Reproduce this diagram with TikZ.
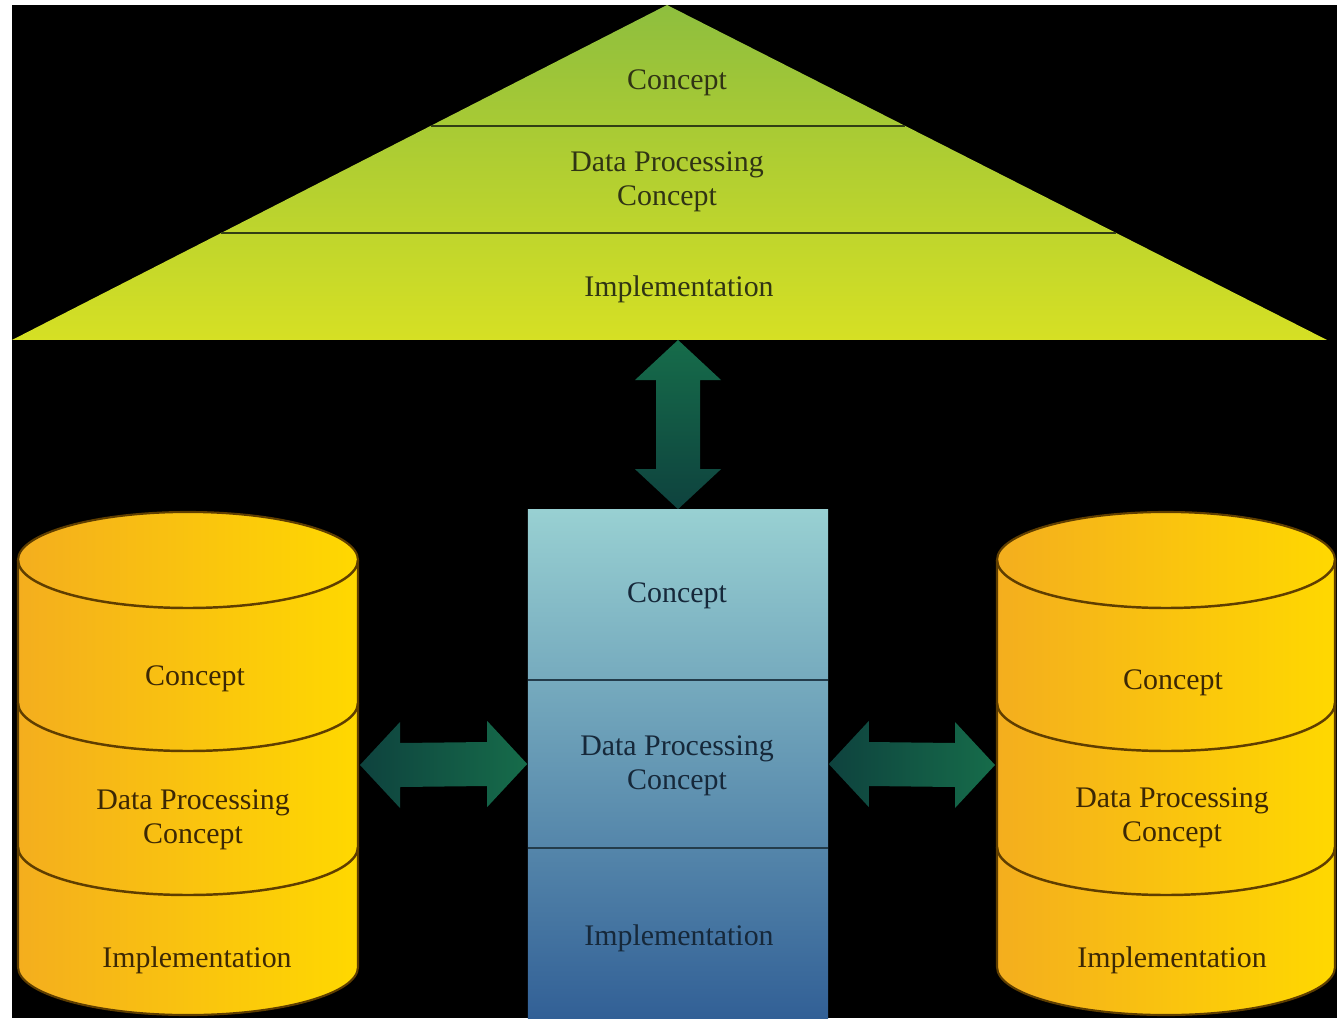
\documentclass[tikz,border=0pt]{standalone}
\usepackage{fontspec}
\setmainfont{Liberation Serif}
\usepackage{tikz}
\usetikzlibrary{calc,positioning}
\definecolor{trigtop}{RGB}{142,190,62}
\definecolor{trigbot}{RGB}{214,224,36}
\definecolor{trigline}{RGB}{50,62,20}
\definecolor{trigtext}{RGB}{48,52,20}
\definecolor{cylleft}{RGB}{244,174,30}
\definecolor{cylright}{RGB}{255,216,0}
\definecolor{cylline}{RGB}{95,62,0}
\definecolor{cyltext}{RGB}{60,40,5}
\definecolor{boxtop}{RGB}{152,208,210}
\definecolor{boxbot}{RGB}{50,96,150}
\definecolor{boxline}{RGB}{35,60,75}
\definecolor{boxtext}{RGB}{22,40,58}
\definecolor{arrdark}{RGB}{14,66,62}
\definecolor{arrgreen}{RGB}{22,108,74}

\begin{document}
\begin{tikzpicture}[x=0.01cm,y=-0.01cm,
	lbl/.style={font=\fontsize{8.5}{9.7}\selectfont,align=center,inner sep=0pt},
	cylbody/.style={left color=cylleft,right color=cylright,draw=cylline,line width=0.6pt},
	band/.style={line width=0.7pt}]
		% page
		\fill[white] (0,0) rectangle (1337,1018);
		\fill[black] (12,5) rectangle (1337,1018);
		% triangle
		\coordinate (apex) at (667,5);
		\coordinate (bl) at (12,340);
		\coordinate (br) at (1327,340);
		\shade[top color=trigtop,bottom color=trigbot] (apex) -- (br) -- (bl) -- cycle;
		\draw[band,trigline] ($(apex)!0.361!(bl)$) -- ($(apex)!0.361!(br)$);
		\draw[band,trigline] ($(apex)!0.681!(bl)$) -- ($(apex)!0.681!(br)$);
		\node[lbl,text=trigtext] (tc) at (677,83) {Concept};
		\node[lbl,text=trigtext] (tdp) at (667,182) {Data Processing\\Concept};
		\node[lbl,text=trigtext] (ti) at (679,289) {Implementation};
		\coordinate (tbase) at (678,340);
		% middle box
		\node[top color=boxtop,bottom color=boxbot,minimum width=3cm,minimum height=5.08cm,inner sep=0pt] (box) at (678,764) {};
		\draw[band,boxline] (528,680) -- (828,680);
		\draw[band,boxline] (528,848) -- (828,848);
		\node[lbl,text=boxtext] (bc) at (677,596) {Concept};
		\node[lbl,text=boxtext] (bdp) at (677,766) {Data Processing\\Concept};
		\node[lbl,text=boxtext] (bi) at (679,938) {Implementation};
		% left cylinder
		\shade[cylbody] (18,560) -- (18,967) arc[start angle=180,end angle=0,x radius=170,y radius=48]
			-- (358,560) arc[start angle=0,end angle=-180,x radius=170,y radius=48] -- cycle;
		\draw[band,cylline] (18,560) arc[start angle=180,end angle=0,x radius=170,y radius=48];
		\draw[band,cylline] (18,703) arc[start angle=180,end angle=0,x radius=170,y radius=48];
		\draw[band,cylline] (18,847) arc[start angle=180,end angle=0,x radius=170,y radius=48];
		\node[lbl,text=cyltext] (lc) at (195,679) {Concept};
		\node[lbl,text=cyltext] (ldp) at (193,820) {Data Processing\\Concept};
		\node[lbl,text=cyltext] (li) at (197,960) {Implementation};
		\coordinate (lcyl) at (360,765);
		% right cylinder
		\shade[cylbody] (997,560) -- (997,967) arc[start angle=180,end angle=0,x radius=169,y radius=48]
			-- (1335,560) arc[start angle=0,end angle=-180,x radius=169,y radius=48] -- cycle;
		\draw[band,cylline] (997,560) arc[start angle=180,end angle=0,x radius=169,y radius=48];
		\draw[band,cylline] (997,703) arc[start angle=180,end angle=0,x radius=169,y radius=48];
		\draw[band,cylline] (997,847) arc[start angle=180,end angle=0,x radius=169,y radius=48];
		\node[lbl,text=cyltext] (rc) at (1173,683) {Concept};
		\node[lbl,text=cyltext] (rdp) at (1172,818) {Data Processing\\Concept};
		\node[lbl,text=cyltext] (ri) at (1172,960) {Implementation};
		\coordinate (rcyl) at (995,765);
		% block arrows
		\shade[top color=arrgreen,bottom color=arrdark] (tbase) -- ++(43,40) -- ++(-21,0) -- ($(box.north)+(22,-40)$)
			-- ++(21,0) -- (box.north) -- ++(-43,-40) -- ++(21,0) -- ($(tbase)+(-22,40)$) -- ++(-21,0) -- cycle;
		\shade[left color=arrdark,right color=arrgreen] (lcyl) -- ++(40,-43) -- ++(0,21) -- ($(box.west)+(-40,-22)$)
			-- ++(0,-21) -- (box.west) -- ++(-40,43) -- ++(0,-21) -- ($(lcyl)+(40,22)$) -- ++(0,21) -- cycle;
		\shade[left color=arrdark,right color=arrgreen] (box.east) -- ++(40,-43) -- ++(0,21) -- ($(rcyl)+(-40,-22)$)
			-- ++(0,-21) -- (rcyl) -- ++(-40,43) -- ++(0,-21) -- ($(box.east)+(40,22)$) -- ++(0,21) -- cycle;
		\end{tikzpicture}
\end{document}
